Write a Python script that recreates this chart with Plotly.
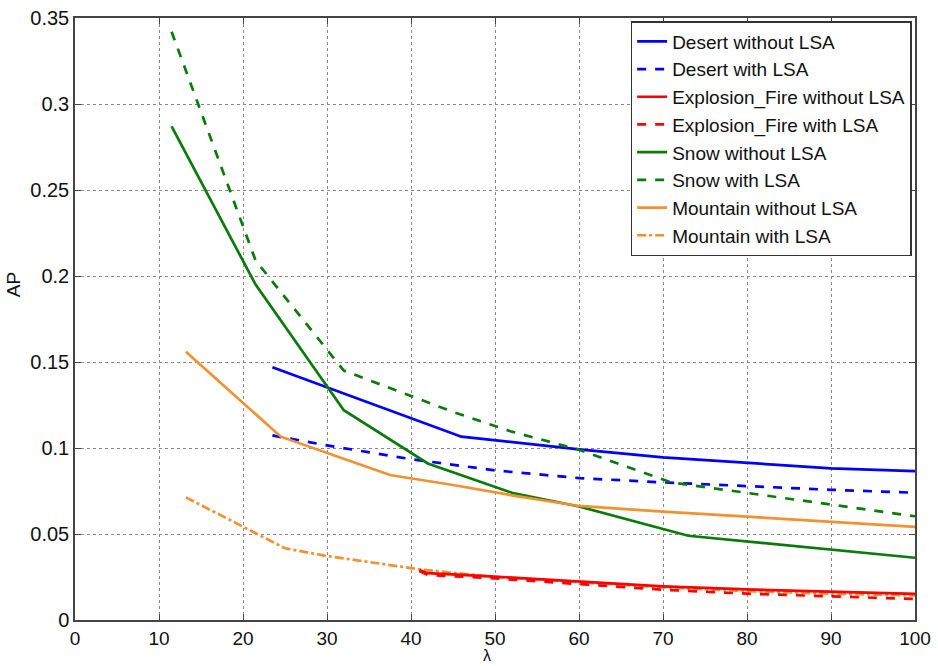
import plotly.graph_objects as go

# ---- data ----
desert_wo_x = [23.5, 30, 46, 60, 70, 90, 100]
desert_wo_y = [0.147, 0.1353, 0.1066, 0.0992, 0.0946, 0.0882, 0.0866]

desert_w_x = [23.5, 30, 40, 50, 60, 70, 90, 100]
desert_w_y = [0.1073, 0.1015, 0.0935, 0.087, 0.0825, 0.080, 0.0757, 0.0740]

fire_wo_x = [41, 42, 50, 60, 70, 80, 90, 100]
fire_wo_y = [0.029, 0.0272, 0.0252, 0.0223, 0.0196, 0.0178, 0.0165, 0.0152]

fire_w_x = [41, 42, 50, 60, 70, 80, 90, 100]
fire_w_y = [0.0285, 0.0262, 0.0242, 0.0210, 0.0176, 0.0153, 0.0137, 0.0122]

snow_wo_x = [11.5, 21.5, 32, 42, 52, 60, 73, 100]
snow_wo_y = [0.287, 0.195, 0.122, 0.091, 0.074, 0.066, 0.049, 0.0362]

snow_w_x = [11.5, 21.5, 32, 45, 52, 60, 71, 100]
snow_w_y = [0.342, 0.209, 0.145, 0.121, 0.1095, 0.099, 0.080, 0.0603]

mountain_wo_x = [13.2, 24.5, 37.5, 45, 52, 60, 70, 90, 100]
mountain_wo_y = [0.156, 0.1066, 0.0843, 0.0785, 0.0725, 0.0663, 0.063, 0.0572, 0.0542]

mountain_w_x = [13.2, 25, 30, 41, 50, 60, 70, 80, 90, 100]
mountain_w_y = [0.0713, 0.0417, 0.0372, 0.0295, 0.0250, 0.0220, 0.0190, 0.0168, 0.0153, 0.0143]

x_ticks = list(range(0, 101, 10))
y_ticks = [0, 0.05, 0.1, 0.15, 0.2, 0.25, 0.3, 0.35]
y_tick_labels = ["0", "0.05", "0.1", "0.15", "0.2", "0.25", "0.3", "0.35"]
x_title = "λ"
y_title = "AP"

BLUE = "#0000FF"
RED = "#FF0000"
GREEN = "#0A7A0A"
ORANGE = "#F39030"

series = [
    # (name, x, y, color, dash, legendrank)
    ("Mountain with LSA", mountain_w_x, mountain_w_y, ORANGE, "dashdot", 8),
    ("Desert without LSA", desert_wo_x, desert_wo_y, BLUE, "solid", 1),
    ("Desert with LSA", desert_w_x, desert_w_y, BLUE, "dash", 2),
    ("Explosion_Fire without LSA", fire_wo_x, fire_wo_y, RED, "solid", 3),
    ("Explosion_Fire with LSA", fire_w_x, fire_w_y, RED, "dash", 4),
    ("Snow without LSA", snow_wo_x, snow_wo_y, GREEN, "solid", 5),
    ("Snow with LSA", snow_w_x, snow_w_y, GREEN, "dash", 6),
    ("Mountain without LSA", mountain_wo_x, mountain_wo_y, ORANGE, "solid", 7),
]

fig = go.Figure()
for name, xs, ys, color, dash, rank in series:
    fig.add_trace(go.Scatter(
        x=xs, y=ys, mode="lines", name=name, legendrank=rank,
        line=dict(color=color, width=2.7, dash=dash),
    ))

FONT = "Liberation Sans, Arial, sans-serif"

fig.update_layout(
    width=938, height=666,
    margin=dict(l=75, r=23, t=18, b=46),
    paper_bgcolor="white", plot_bgcolor="white",
    font=dict(family=FONT, size=20, color="#111"),
    showlegend=True,
    legend=dict(
        x=0.996, y=0.995, xanchor="right", yanchor="top",
        bgcolor="white", bordercolor="#333", borderwidth=1.5,
        font=dict(family=FONT, size=19, color="#111"),
        tracegroupgap=0,
    ),
    xaxis=dict(
        range=[0, 100], tickvals=x_ticks, automargin=False,
        tickfont=dict(size=19),
        showgrid=True, gridcolor="#888", griddash="dot", gridwidth=1,
        showline=True, linecolor="#444", linewidth=1.5, mirror="ticks",
        ticks="inside", ticklen=6, tickcolor="#444",
        zeroline=False,
    ),
    yaxis=dict(
        range=[0, 0.35], tickvals=y_ticks, ticktext=y_tick_labels, automargin=False,
        showgrid=True, gridcolor="#888", griddash="dot", gridwidth=1,
        showline=True, linecolor="#444", linewidth=1.5, mirror="ticks",
        ticks="inside", ticklen=6, tickcolor="#444",
        zeroline=False,
    ),
    annotations=[
        dict(text=x_title, xref="paper", yref="paper", x=0.49, y=0,
             xanchor="center", yanchor="top", yshift=-25, showarrow=False,
             font=dict(family=FONT, size=16, color="#111")),
        dict(text=y_title, xref="paper", yref="paper", x=0, y=0.556,
             xanchor="center", yanchor="middle", xshift=-62, textangle=-90,
             showarrow=False, font=dict(family=FONT, size=19, color="#111")),
    ],
)

fig.write_html("out.html")
